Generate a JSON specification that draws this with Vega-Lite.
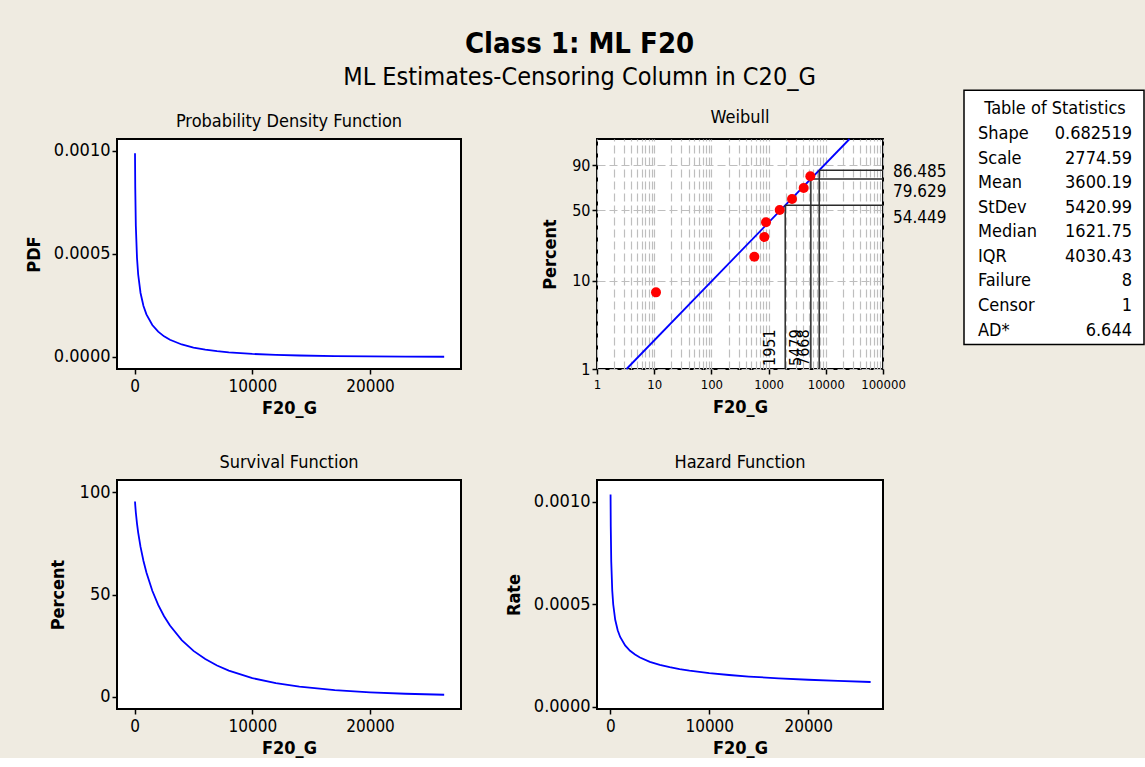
{
  "$schema": "https://vega.github.io/schema/vega-lite/v6.json",
  "background": "#EFEBE1",
  "padding": {"left": 24, "top": 29, "right": 0, "bottom": 0},
  "title": {"text": "Class 1: ML F20", "subtitle": "ML Estimates-Censoring Column in C20_G", "fontSize": 29, "fontWeight": "bold", "color": "black", "subtitleFontSize": 25, "subtitleColor": "black", "subtitlePadding": 6, "anchor": "middle", "frame": "bounds", "offset": 0, "dx": -5},
  "columns": 5,
  "spacing": {"row": 111, "column": 10},
  "bounds": "flush",
  "align": "each",
  "datasets": {
    "curves": [
      {"x": 30, "pdf": 0.00098933, "surv": 95.551, "haz": 0.0010354},
      {"x": 50, "pdf": 0.0008254, "surv": 93.754, "haz": 0.00088039},
      {"x": 100, "pdf": 0.00063702, "surv": 90.166, "haz": 0.0007065},
      {"x": 200, "pdf": 0.00048016, "surv": 84.693, "haz": 0.00056694},
      {"x": 300, "pdf": 0.00040038, "surv": 80.324, "haz": 0.00049846},
      {"x": 500, "pdf": 0.00031071, "surv": 73.309, "haz": 0.00042383},
      {"x": 750, "pdf": 0.00024742, "surv": 66.397, "haz": 0.00037264},
      {"x": 1000, "pdf": 0.00020663, "surv": 60.754, "haz": 0.00034011},
      {"x": 1500, "pdf": 0.00015499, "surv": 51.831, "haz": 0.00029903},
      {"x": 2000, "pdf": 0.00012266, "surv": 44.943, "haz": 0.00027293},
      {"x": 2500, "pdf": 0.00010019, "surv": 39.404, "haz": 0.00025426},
      {"x": 3000, "pdf": 0.000083574, "surv": 34.827, "haz": 0.00023997},
      {"x": 4000, "pdf": 0.000060675, "surv": 27.703, "haz": 0.00021902},
      {"x": 5000, "pdf": 0.000045766, "surv": 22.43, "haz": 0.00020404},
      {"x": 6000, "pdf": 0.000035433, "surv": 18.401, "haz": 0.00019256},
      {"x": 7000, "pdf": 0.000027962, "surv": 15.249, "haz": 0.00018337},
      {"x": 8000, "pdf": 0.000022401, "surv": 12.745, "haz": 0.00017576},
      {"x": 10000, "pdf": 0.000014868, "surv": 9.081, "haz": 0.00016373},
      {"x": 12000, "pdf": 0.000010213, "surv": 6.609, "haz": 0.00015453},
      {"x": 14000, "pdf": 0.0000071927, "surv": 4.888, "haz": 0.00014715},
      {"x": 17000, "pdf": 0.0000044106, "surv": 3.188, "haz": 0.00013835},
      {"x": 20000, "pdf": 0.0000027947, "surv": 2.127, "haz": 0.00013139},
      {"x": 23000, "pdf": 0.0000018187, "surv": 1.447, "haz": 0.00012569},
      {"x": 26300, "pdf": 0.0000011611, "surv": 0.964, "haz": 0.00012045}
    ],
    "fit": [
      {"x": 3.2815, "q": -4.60015},
      {"x": 25999, "q": 1.52718}
    ],
    "pts": [
      {"x": 10.75, "p": 7.45, "q": -2.5585},
      {"x": 563, "p": 18.09, "q": -1.6117},
      {"x": 842, "p": 28.72, "q": -1.083},
      {"x": 901, "p": 39.36, "q": -0.69271},
      {"x": 1562, "p": 50.0, "q": -0.36651},
      {"x": 2565, "p": 60.64, "q": -0.06999},
      {"x": 4103, "p": 71.28, "q": 0.22121},
      {"x": 5365, "p": 81.91, "q": 0.53639}
    ],
    "refs": [
      {"x": 1951, "p": 54.449, "q": -0.24038, "xl": "1951", "pl": "54.449"},
      {"x": 5479, "p": 79.629, "q": 0.4644, "xl": "5479", "pl": "79.629"},
      {"x": 7668, "p": 86.485, "q": 0.69383, "xl": "7668", "pl": "86.485"}
    ],
    "stats": [
      {"row": 0, "kind": "title", "name": "Table of Statistics", "value": ""},
      {"row": 1, "kind": "stat", "name": "Shape", "value": "0.682519"},
      {"row": 2, "kind": "stat", "name": "Scale", "value": "2774.59"},
      {"row": 3, "kind": "stat", "name": "Mean", "value": "3600.19"},
      {"row": 4, "kind": "stat", "name": "StDev", "value": "5420.99"},
      {"row": 5, "kind": "stat", "name": "Median", "value": "1621.75"},
      {"row": 6, "kind": "stat", "name": "IQR", "value": "4030.43"},
      {"row": 7, "kind": "stat", "name": "Failure", "value": "8"},
      {"row": 8, "kind": "stat", "name": "Censor", "value": "1"},
      {"row": 9, "kind": "stat", "name": "AD*", "value": "6.644"}
    ],
    "box": [
      {"x0": 0, "x1": 1, "r0": -0.7724, "r1": 9.565}
    ]
  },
  "concat": [
    {
      "title": "Probability Density Function",
      "width": 344, "height": 230,
      "view": {"fill": "white", "stroke": "black", "strokeWidth": 2},
      "data": {"name": "curves"},
      "mark": {"type": "line", "color": "#0000FF", "strokeWidth": 1.8},
      "encoding": {
        "x": {"field": "x", "type": "quantitative", "scale": {"domain": [-1500, 27730], "nice": false, "zero": false}, "axis": {"values": [0, 10000, 20000], "format": "d", "title": "F20_G"}},
        "y": {"field": "pdf", "type": "quantitative", "scale": {"domain": [-0.0000583, 0.001058], "nice": false, "zero": false}, "axis": {"values": [0, 0.0005, 0.001], "format": ".4f", "title": "PDF", "labelFontSize": 18}}
      }
    },
    {"width": 116, "height": 230, "data": {"values": [{"s": 0}]}, "mark": {"type": "point", "opacity": 0}, "encoding": {}},
    {
      "title": "Weibull",
      "width": 286, "height": 230,
      "view": {"fill": "white", "stroke": "black", "strokeWidth": 2},
      "layer": [
        {
          "data": {"name": "fit"},
          "mark": {"type": "line", "color": "#0000FF", "strokeWidth": 1.8},
          "encoding": {
            "x": {"field": "x", "type": "quantitative", "scale": {"type": "log", "domain": [1, 100000], "nice": false}, "axis": {"orient": "bottom", "values": [1, 10, 100, 1000, 10000, 100000], "format": "d", "title": "F20_G", "labelFontSize": 13, "titlePadding": 7}},
            "y": {"field": "q", "type": "quantitative", "scale": {"domain": [-4.60015, 1.52718], "nice": false, "zero": false}, "axis": {"orient": "left", "values": [-4.60015, -2.25037, -0.366513, 0.834032], "labelExpr": "datum.value < -4 ? '1' : datum.value < -2 ? '10' : datum.value < 0 ? '50' : '90'", "title": "Percent", "titlePadding": 12, "grid": true, "gridColor": "#BEBEBE", "gridDash": [8, 4], "gridWidth": 1.2, "labelFontSize": 16}}
          }
        },
        {
          "data": {"name": "refs"},
          "mark": {"type": "rule", "color": "#2A2A2A", "strokeWidth": 1.5},
          "encoding": {
            "x": {"field": "x", "type": "quantitative", "axis": {"orient": "top", "values": [1,2,3,4,5,6,7,8,9,10,20,30,40,50,60,70,80,90,100,200,300,400,500,600,700,800,900,1000,2000,3000,4000,5000,6000,7000,8000,9000,10000,20000,30000,40000,50000,60000,70000,80000,90000,100000], "grid": true, "gridColor": "#BEBEBE", "gridDash": [8, 4], "gridWidth": 1.2, "labels": false, "ticks": false, "domain": false, "title": null}},
            "y": {"field": "q", "type": "quantitative"},
            "y2": {"datum": -4.60015}
          }
        },
        {
          "data": {"name": "refs"},
          "mark": {"type": "rule", "color": "#2A2A2A", "strokeWidth": 1.5},
          "encoding": {
            "x": {"field": "x", "type": "quantitative", "axis": null},
            "x2": {"datum": 100000},
            "y": {"field": "q", "type": "quantitative"}
          }
        },
        {
          "data": {"name": "pts"},
          "mark": {"type": "point", "filled": true, "color": "#FF0000", "size": 100, "opacity": 1},
          "encoding": {
            "x": {"field": "x", "type": "quantitative", "axis": null},
            "y": {"field": "q", "type": "quantitative"}
          }
        },
        {
          "data": {"name": "refs"},
          "mark": {"type": "text", "angle": 270, "align": "left", "baseline": "alphabetic", "dx": 3, "dy": -10, "fontSize": 16, "color": "black"},
          "encoding": {
            "x": {"field": "x", "type": "quantitative", "axis": null},
            "y": {"datum": -4.60015, "type": "quantitative"},
            "text": {"field": "xl"}
          }
        },
        {
          "data": {"name": "refs"},
          "transform": [{"filter": "datum.p > 85"}],
          "mark": {"type": "text", "align": "left", "baseline": "middle", "dx": 10, "dy": 2, "fontSize": 17, "color": "black"},
          "encoding": {
            "x": {"datum": 100000, "type": "quantitative", "axis": null},
            "y": {"field": "q", "type": "quantitative"},
            "text": {"field": "pl"}
          }
        },
        {
          "data": {"name": "refs"},
          "transform": [{"filter": "datum.p < 85"}],
          "mark": {"type": "text", "align": "left", "baseline": "middle", "dx": 10, "dy": 13, "fontSize": 17, "color": "black"},
          "encoding": {
            "x": {"datum": 100000, "type": "quantitative", "axis": null},
            "y": {"field": "q", "type": "quantitative"},
            "text": {"field": "pl"}
          }
        }
      ]
    },
    {"width": 61, "height": 230, "data": {"values": [{"s": 0}]}, "mark": {"type": "point", "opacity": 0}, "encoding": {}},
    {
      "width": 180, "height": 230,
      "data": {"name": "stats"},
      "layer": [
        {
          "data": {"name": "box"},
          "mark": {"type": "rect", "fill": "white", "stroke": "black", "strokeWidth": 1.5},
          "encoding": {
            "x": {"field": "x0", "type": "quantitative", "scale": {"domain": [0, 1], "nice": false, "zero": false}, "axis": null},
            "x2": {"field": "x1"},
            "y": {"field": "r0", "type": "quantitative", "scale": {"domain": [1.2073, 10.557], "reverse": true, "nice": false, "zero": false}, "axis": null},
            "y2": {"field": "r1"}
          }
        },
        {
          "transform": [{"filter": "datum.kind == 'title'"}],
          "mark": {"type": "text", "fontSize": 18, "align": "center", "baseline": "middle", "dx": 91, "color": "black"},
          "encoding": {
            "x": {"datum": 0, "type": "quantitative", "axis": null},
            "y": {"field": "row", "type": "quantitative", "axis": null},
            "text": {"field": "name"}
          }
        },
        {
          "transform": [{"filter": "datum.kind == 'stat'"}],
          "mark": {"type": "text", "fontSize": 18, "align": "left", "baseline": "middle", "dx": 14, "color": "black"},
          "encoding": {
            "x": {"datum": 0, "type": "quantitative", "axis": null},
            "y": {"field": "row", "type": "quantitative", "axis": null},
            "text": {"field": "name"}
          }
        },
        {
          "transform": [{"filter": "datum.kind == 'stat'"}],
          "mark": {"type": "text", "fontSize": 18, "align": "right", "baseline": "middle", "dx": -12, "color": "black"},
          "encoding": {
            "x": {"datum": 1, "type": "quantitative", "axis": null},
            "y": {"field": "row", "type": "quantitative", "axis": null},
            "text": {"field": "value"}
          }
        }
      ]
    },
    {
      "title": "Survival Function",
      "width": 344, "height": 229,
      "view": {"fill": "white", "stroke": "black", "strokeWidth": 2},
      "data": {"name": "curves"},
      "mark": {"type": "line", "color": "#0000FF", "strokeWidth": 1.8},
      "encoding": {
        "x": {"field": "x", "type": "quantitative", "scale": {"domain": [-1500, 27730], "nice": false, "zero": false}, "axis": {"values": [0, 10000, 20000], "format": "d", "title": "F20_G"}},
        "y": {"field": "surv", "type": "quantitative", "scale": {"domain": [-6.02, 106.07], "nice": false, "zero": false}, "axis": {"values": [0, 50, 100], "format": "d", "title": "Percent", "titlePadding": 12, "labelFontSize": 18}}
      }
    },
    {"width": 116, "height": 229, "data": {"values": [{"s": 0}]}, "mark": {"type": "point", "opacity": 0}, "encoding": {}},
    {
      "title": "Hazard Function",
      "width": 286, "height": 229,
      "view": {"fill": "white", "stroke": "black", "strokeWidth": 2},
      "data": {"name": "curves"},
      "mark": {"type": "line", "color": "#0000FF", "strokeWidth": 1.8},
      "encoding": {
        "x": {"field": "x", "type": "quantitative", "scale": {"domain": [-1340, 27550], "nice": false, "zero": false}, "axis": {"values": [0, 10000, 20000], "format": "d", "title": "F20_G"}},
        "y": {"field": "haz", "type": "quantitative", "scale": {"domain": [-0.0000112, 0.0011057], "nice": false, "zero": false}, "axis": {"values": [0, 0.0005, 0.001], "format": ".4f", "title": "Rate", "labelFontSize": 18}}
      }
    }
  ],
  "config": {
    "font": "DejaVu Sans Condensed, Liberation Sans",
    "view": {"stroke": null},
    "axis": {"domain": false, "grid": false, "tickColor": "black", "tickSize": 5, "tickWidth": 1.5, "labelColor": "black", "labelFontSize": 17, "titleFontSize": 18, "titleFontWeight": "bold", "titleColor": "black", "labelFlush": false, "labelOverlap": false},
    "axisX": {"labelPadding": 4, "titlePadding": 5},
    "axisY": {"labelPadding": 2, "titlePadding": 10},
    "title": {"fontSize": 18, "fontWeight": "normal", "color": "black", "offset": 8, "frame": "group"},
    "text": {"color": "black"}
  }
}
